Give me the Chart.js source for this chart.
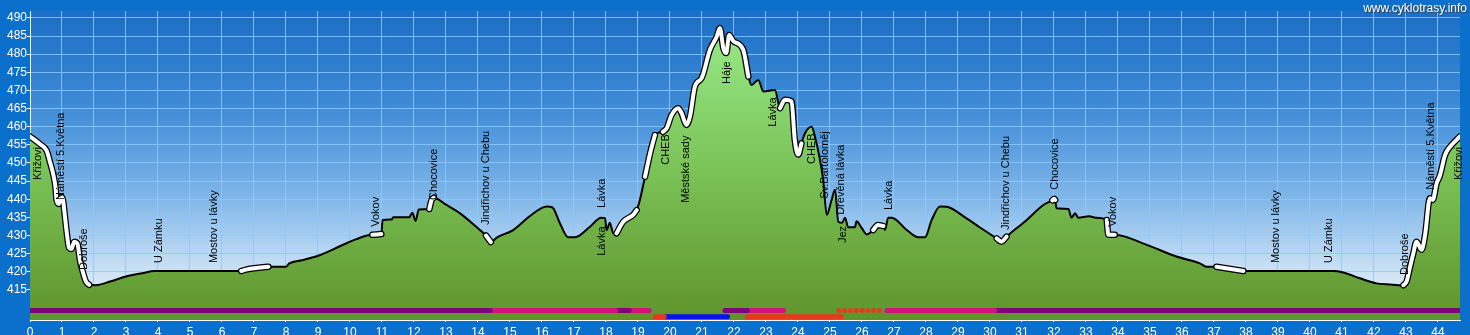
<!DOCTYPE html>
<html><head><meta charset="utf-8">
<script src="https://cdn.jsdelivr.net/npm/chart.js@4"></script>
<style>html,body{margin:0;padding:0;background:#0a70cc;overflow:hidden}#wrap{width:1470px;height:335px;position:relative}</style>
</head><body><div id="wrap"><canvas id="c"></canvas></div>
<script>
// ---- DATA ----
const profileKm = [0,0.31,0.52,0.62,0.73,0.80,0.83,0.90,0.97,1.03,1.08,1.15,1.22,1.30,1.38,1.48,1.56,1.65,1.75,1.85,2.05,2.50,3.00,3.50,3.90,6.60,6.75,7.45,8.00,8.10,8.50,9.00,9.70,10.20,10.70,10.98,11.02,11.30,11.35,11.55,11.85,11.95,12.05,12.15,12.48,12.55,12.62,13.00,13.44,14.06,14.25,14.40,14.60,15.10,15.60,16.00,16.15,16.32,16.56,16.82,17.03,17.50,17.85,17.97,18.02,18.12,18.23,18.33,18.54,18.85,18.96,19.06,19.22,19.38,19.53,19.78,19.90,20.05,20.26,20.36,20.52,20.63,20.78,20.99,21.25,21.46,21.56,21.67,21.76,21.85,21.98,22.29,22.45,22.55,22.76,22.92,23.28,23.44,23.59,23.80,23.90,24.01,24.11,24.22,24.43,24.53,24.69,24.79,24.90,25.05,25.16,25.26,25.38,25.47,25.57,25.78,25.83,25.99,26.15,26.35,26.50,26.67,26.72,26.82,26.93,27.40,27.76,27.97,28.18,28.44,28.65,29.27,29.69,30.21,30.36,30.52,31.15,31.67,31.95,32.01,32.04,32.08,32.45,32.55,32.66,32.76,33.10,33.30,33.65,33.70,33.90,34.90,35.83,36.56,36.77,37.08,37.92,40.73,41.04,41.56,42.08,42.50,42.92,43.02,43.12,43.23,43.33,43.49,43.60,43.75,43.84,43.96,44.06,44.22,44.32,44.69];
const profileElev = [457.3,455.2,453.4,450.4,446.7,443.1,439.8,438.7,440.6,439.8,436.2,430.7,426.6,426.3,428.3,427.8,423.3,420.0,417.3,416.4,416.3,417.3,418.7,419.6,420.2,420.2,420.6,421.4,421.4,422.3,423.2,424.4,427.1,429.0,430.2,430.4,434.3,434.4,435.0,435.0,435.0,436.3,434.0,437.2,437.3,439.8,440.4,438.5,436.1,431.5,430.0,428.2,429.5,431.5,435.2,437.6,438.0,437.8,433.4,429.5,429.5,432.4,434.9,434.8,431.5,433.5,430.6,430.6,433.8,435.7,437.0,439.8,446.2,452.7,457.7,458.6,459.6,463.2,465.1,463.8,460.5,463.0,471.1,473.4,481.2,484.8,487.2,481.6,480.3,485.3,483.6,481.2,473.8,471.5,472.9,469.7,470.1,465.1,467.4,467.0,456.4,452.3,455.4,458.2,460.0,457.3,450.8,445.3,435.7,439.8,442.6,433.8,433.5,434.9,432.3,432.3,433.9,432.1,430.3,431.5,432.9,432.6,431.5,434.9,434.9,431.5,429.5,429.5,434.3,438.0,437.9,434.7,432.2,429.2,428.3,429.7,434.3,438.4,439.7,440.1,439.8,437.5,437.3,434.9,436.1,434.9,435.3,434.9,434.3,430.2,430.2,427.4,424.2,422.3,421.4,421.4,420.2,420.2,419.8,418.2,416.8,416.5,416.3,417.3,421.0,425.0,428.3,426.1,430.2,440.3,439.8,444.4,446.5,452.1,453.8,457.3];
// km ranges of the highlighted (white) parts of the profile
const highlightFrom = [0,6.60,10.70,12.48,14.25,18.33,19.22,19.78,23.44,26.35,30.21,31.95,33.65,37.08,42.92];
const highlightTo   = [1.85,7.45,10.98,12.62,14.40,18.96,19.53,22.45,24.11,26.67,30.52,32.04,33.90,37.92,44.69];
const xTicks = [0,1,2,3,4,5,6,7,8,9,10,11,12,13,14,15,16,17,18,19,20,21,22,23,24,25,26,27,28,29,30,31,32,33,34,35,36,37,38,39,40,41,42,43,44];
const yTicks = [415,420,425,430,435,440,445,450,455,460,465,470,475,480,485,490];
const placeNames = ["Křižovi","Náměstí 5.Května","Dobroše","U Zámku","Mostov u lávky","Vokov","Chocovice","Jindřichov u Chebu","Lávka","Lávka","CHEB","Městské sady","Háje","Lávka","CHEB","Sv.Bartoloměj","Dřevěná lávka","Jez","Lávka","Jindřichov u Chebu","Chocovice","Vokov","Mostov u lávky","U Zámku","Dobroše","Náměstí 5.Května","Křižovi"];
const placeKm   = [0.25,0.97,1.69,4.03,5.75,10.80,12.64,14.25,17.86,17.87,19.88,20.50,21.77,23.22,24.45,24.84,25.33,25.40,26.84,30.50,32.03,33.86,38.94,40.60,42.97,43.77,44.67];
const placeElev = [445.3,439.8,420.5,422.4,422.4,432.4,439.8,432.9,437.6,424.4,449.5,439.0,471.8,460.0,449.7,440.1,435.7,427.9,437.0,431.5,442.6,432.4,422.4,422.4,419.1,442.6,445.3];
// surface / route type bars: start km, end km, lane, type
const surfStart = [0,14.38,18.30,18.72,21.72,22.42,25.28,26.78,30.15,19.55,19.85,22.42];
const surfEnd   = [14.38,18.30,18.72,19.35,22.42,23.55,26.68,30.15,44.69,19.82,21.80,25.35];
const surfLane  = [1,1,1,1,1,1,1,1,1,2,2,2];
const surfType  = ["A","B","A","B","A","B","D","B","A","C","E","C"];

// ---- STYLE ----
const typeStyle = {A:{c:'#800080'},B:{c:'#d0147c'},C:{c:'#e8381e'},D:{c:'#e8381e',dash:[0,5.8]},E:{c:'#0a14e6'}};
const laneElev = {1:409.3, 2:407.6};
const gridColor = 'rgba(140,200,255,0.85)';
const FONT = "'Liberation Sans', Arial, sans-serif";

const profile = profileKm.map((k,i)=>({x:k,y:profileElev[i]}));
const hl = [];
highlightFrom.forEach((a,r)=>{
  const b = highlightTo[r];
  profileKm.forEach((k,i)=>{ if(k>=a-1e-9 && k<=b+1e-9) hl.push({x:k,y:profileElev[i]}); });
  hl.push({x:b+0.001,y:null});
});

const datasets = [
  {data:profile, order:10, fill:'start', borderColor:'#000', borderWidth:2, pointRadius:0, cubicInterpolationMode:'monotone',
   backgroundColor:(c)=>{const ch=c.chart,a=ch.chartArea; if(!a) return '#70b050';
     const g=ch.ctx.createLinearGradient(0,a.top,0,a.bottom);
     g.addColorStop(0,'#9aee8c'); g.addColorStop(0.5,'#7bc458'); g.addColorStop(1,'#5f942c'); return g;}},
  {data:hl, order:9, fill:false, borderColor:'#000', borderWidth:6.5, pointRadius:0, cubicInterpolationMode:'monotone', spanGaps:false, borderCapStyle:'round', borderJoinStyle:'round'},
  {data:hl, order:8, fill:false, borderColor:'#fff', borderWidth:4, pointRadius:0, cubicInterpolationMode:'monotone', spanGaps:false, borderCapStyle:'round', borderJoinStyle:'round'}
];
surfStart.forEach((s,i)=>{
  const st = typeStyle[surfType[i]];
  datasets.push({data:[{x:s,y:laneElev[surfLane[i]]},{x:surfEnd[i],y:laneElev[surfLane[i]]}], order:1, fill:false,
    borderColor:st.c, borderWidth:5, pointRadius:0, borderCapStyle:'round', borderDash:st.dash||[]});
});

const skyPlugin = {id:'sky', beforeDraw(chart){
  const {ctx, chartArea:a} = chart; ctx.save();
  const g = ctx.createLinearGradient(0,a.top,0,a.bottom);
  g.addColorStop(0,'#1a6ec6'); g.addColorStop(0.3,'#3d8ad6'); g.addColorStop(0.6,'#7fb6e8'); g.addColorStop(0.85,'#cfe3f5'); g.addColorStop(1,'#f2f7fc');
  ctx.fillStyle = g; ctx.fillRect(a.left,a.top,a.right-a.left,a.bottom-a.top); ctx.restore();
}};
const labelPlugin = {id:'places', afterDatasetsDraw(chart){
  const {ctx} = chart, xs = chart.scales.x, ys = chart.scales.y;
  ctx.save(); ctx.font = '11px '+FONT; ctx.fillStyle = '#000'; ctx.textAlign='left'; ctx.textBaseline='middle';
  placeNames.forEach((n,i)=>{ ctx.save(); ctx.translate(xs.getPixelForValue(placeKm[i]), ys.getPixelForValue(placeElev[i]));
    ctx.rotate(-Math.PI/2); ctx.fillText(n,0,0); ctx.restore(); });
  ctx.restore();
}, afterDraw(chart){
  const {ctx} = chart; ctx.save(); ctx.font = '12px '+FONT; ctx.textAlign='right'; ctx.textBaseline='alphabetic';
  ctx.shadowColor = '#404040'; ctx.shadowOffsetX = 1; ctx.shadowOffsetY = 1; ctx.shadowBlur = 0;
  ctx.fillStyle = '#fff'; ctx.fillText('www.cyklotrasy.info', 1467, 12); ctx.restore();
}};

new Chart(document.getElementById('c'), {
  type:'line',
  data:{datasets},
  plugins:[skyPlugin,labelPlugin],
  options:{
    responsive:true, maintainAspectRatio:false, animation:false, events:[],
    layout:{padding:{top:11,right:10,left:0,bottom:0}},
    plugins:{legend:{display:false}, tooltip:{enabled:false}},
    scales:{
      x:{type:'linear', min:0, max:44.69,
        afterBuildTicks:(s)=>{s.ticks = xTicks.map(v=>({value:v}));},
        afterFit:(s)=>{s.height = 15;},
        ticks:{color:'#fff', font:{family:FONT,size:12}, padding:3, maxRotation:0, autoSkip:false, callback:(v)=>String(v)},
        grid:{color:gridColor, lineWidth:1, tickLength:2, tickColor:'#fff'},
        border:{color:'#fff', width:1}},
      y:{type:'linear', min:406.7, max:491.9,
        afterBuildTicks:(s)=>{s.ticks = yTicks.map(v=>({value:v}));},
        afterFit:(s)=>{s.width = 30;},
        ticks:{color:'#fff', font:{family:FONT,size:12}, padding:0, callback:(v)=>String(v)},
        grid:{color:gridColor, lineWidth:1, tickLength:3, tickColor:'#fff'},
        border:{color:'#fff', width:1}}
    }
  }
});
</script></body></html>
